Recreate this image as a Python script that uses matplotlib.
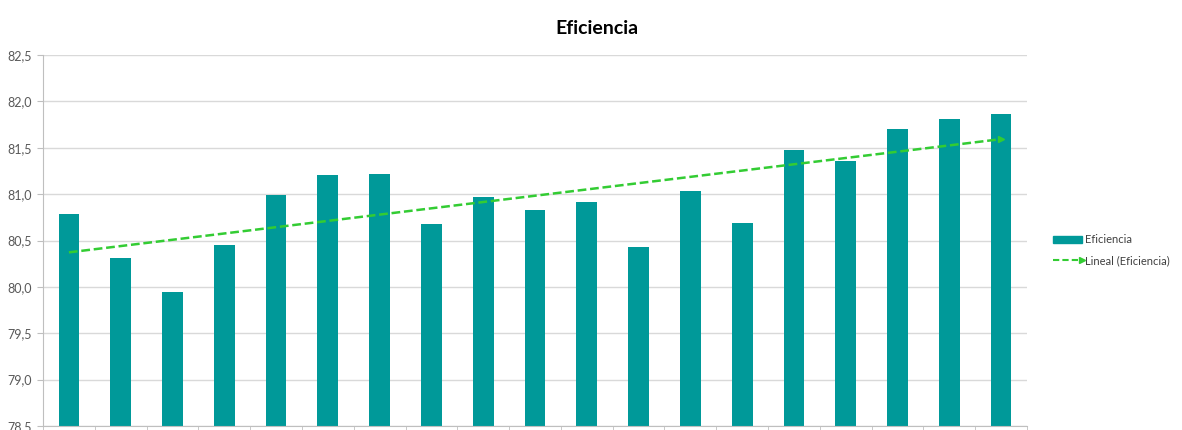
import numpy as np
import matplotlib
matplotlib.use("Agg")
import matplotlib.pyplot as plt
from matplotlib.lines import Line2D
from matplotlib.patches import Patch
from matplotlib.legend_handler import HandlerBase

plt.rcParams['font.family'] = ['Lato', 'DejaVu Sans']

# valores
eficiencia = [80.79, 80.31, 79.94, 80.45, 80.99, 81.21, 81.22, 80.68, 80.97, 80.83,
              80.92, 80.43, 81.03, 80.69, 81.48, 81.36, 81.70, 81.81, 81.86]
y_ticks = [78.5, 79.0, 79.5, 80.0, 80.5, 81.0, 81.5, 82.0, 82.5]
y_labels = ['78,5', '79,0', '79,5', '80,0', '80,5', '81,0', '81,5', '82,0', '82,5']

bar_color = '#009999'
trend_color = '#33CC33'


class ArrowLineHandler(HandlerBase):
    # linea discontinua con flecha al final para la leyenda
    def create_artists(self, legend, orig_handle, xdescent, ydescent,
                       width, height, fontsize, trans):
        y = height / 2 - ydescent
        line = Line2D([-xdescent, width - xdescent], [y, y], color=trend_color,
                      linestyle=(0, (3, 1.5)), lw=1.5)
        head = Line2D([width - xdescent], [y], marker='>', color=trend_color,
                      markersize=4, lw=0)
        line.set_transform(trans)
        head.set_transform(trans)
        return [line, head]


x = np.arange(1, len(eficiencia) + 1)
coef = np.polyfit(x, eficiencia, 1)
trend = np.polyval(coef, x)

fig = plt.figure(figsize=(11.82, 4.30), dpi=100)
ax = fig.add_axes([43 / 1182, 1 - 426 / 430, (1027 - 43) / 1182, (426 - 55) / 430])

ax.bar(x, eficiencia, width=0.4, color=bar_color, zorder=2)
ax.plot(x, trend, color=trend_color, linestyle=(0, (3.5, 1.5)), lw=1.8, zorder=3)
ax.plot(x[-1], trend[-1], marker='>', color=trend_color, markersize=4, zorder=3)

ax.set_xlim(0.5, len(eficiencia) + 0.5)
ax.set_ylim(78.5, 82.5)
ax.set_yticks(y_ticks)
ax.set_yticklabels(y_labels, fontsize=9, color='#595959')
ax.set_xticks([])
ax.set_xticks(np.arange(0.5, len(eficiencia) + 1, 1), minor=True)
ax.tick_params(axis='x', which='minor', length=4, color='#BFBFBF')
ax.tick_params(axis='y', length=4, color='#BFBFBF', pad=4)
ax.grid(axis='y', color='#D9D9D9', lw=1, zorder=0)
for s in ['top', 'right']:
    ax.spines[s].set_visible(False)
for s in ['left', 'bottom']:
    ax.spines[s].set_color('#BFBFBF')

fig.text(597 / 1182, 1 - 28 / 430, 'Eficiencia', ha='center', va='center',
         fontsize=14, fontweight='bold', color='#000000')

fig.legend(handles=[Patch(color=bar_color), Line2D([], [])],
           labels=['Eficiencia', 'Lineal (Eficiencia)'],
           handler_map={Line2D: ArrowLineHandler()},
           loc='center left', bbox_to_anchor=(1043 / 1182, 1 - 250 / 430),
           frameon=False, fontsize=8, handlelength=2.6, handleheight=0.6,
           handletextpad=0.3, labelspacing=0.9, labelcolor='#404040')

fig.savefig('out.png', dpi=100)
